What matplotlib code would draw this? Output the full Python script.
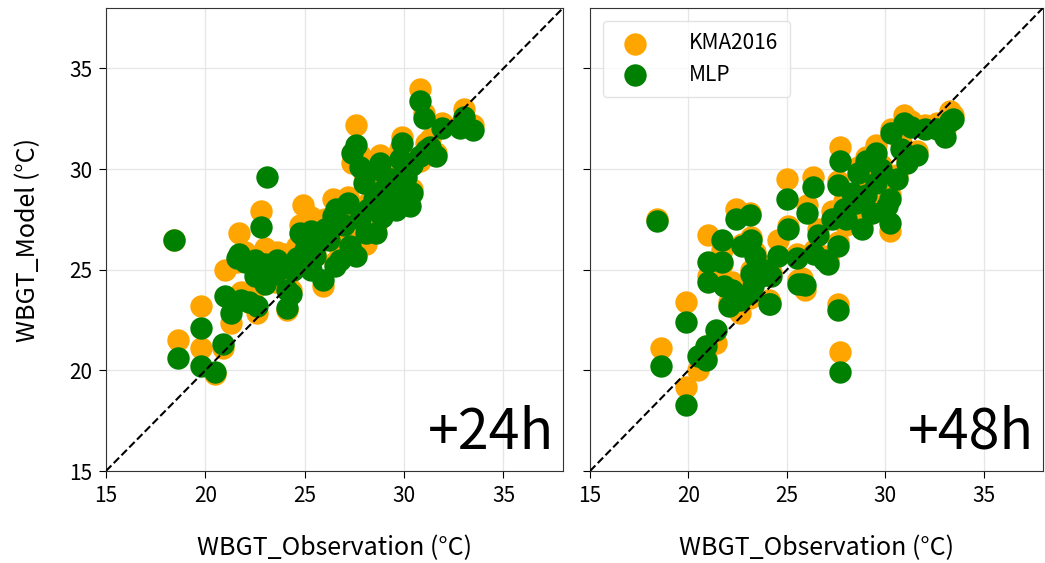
import matplotlib
matplotlib.use("Agg")
import matplotlib.pyplot as plt

plt.rcParams['font.family'] = ['Noto Sans CJK KR', 'DejaVu Sans']

# ---- +24h panel data (observation, KMA2016 model, MLP model) ----
obs24 = [18.4, 18.6, 19.8, 19.8, 20.5, 20.9, 21.0, 21.3, 21.7, 21.8,
         22.8, 23.1, 22.2, 22.6, 24.1, 21.6, 22.0, 22.5, 23.0, 23.6,
         24.0, 24.6, 22.5, 23.0, 23.5, 24.1, 24.4, 24.9, 25.9, 25.3,
         25.0, 25.75, 26.4, 24.75, 26.8, 27.6, 27.6, 27.4, 27.8, 28.8,
         28.8, 29.9, 30.8, 31.0, 31.9, 32.8, 33.0, 33.45, 31.6, 31.1,
         30.8, 30.3, 28.6, 28.1, 30.1, 30.4, 29.6, 27.76, 28.5, 29.0,
         29.4, 28.2, 27.0, 26.2, 25.5, 26.0, 27.2, 29.8, 30.4, 29.2,
         28.0, 26.6, 25.3, 24.3, 26.5, 27.3, 28.9, 30.0, 29.5, 31.3]
kma24 = [26.5, 21.5, 23.2, 21.1, 19.8, 21.1, 25.0, 22.35, 26.8, 23.9,
         27.9, 25.6, 23.4, 22.85, 23.0, 25.4, 25.9, 25.6, 26.1, 25.9,
         25.8, 26.2, 24.1, 24.6, 24.4, 24.6, 25.3, 28.2, 24.2, 25.8,
         26.4, 27.0, 28.5, 27.2, 26.0, 26.3, 32.2, 30.3, 30.7, 30.7,
         29.6, 31.6, 34.0, 32.8, 32.3, 32.2, 33.0, 32.2, 30.8, 31.3,
         30.4, 28.8, 27.2, 26.3, 29.4, 29.0, 28.3, 27.8, 28.8, 29.3,
         30.0, 28.3, 27.6, 26.8, 25.8, 27.5, 28.6, 31.0, 30.4, 28.6,
         29.8, 28.4, 27.6, 24.0, 25.4, 26.6, 28.0, 29.0, 29.7, 31.5]
mlp24 = [26.5, 20.6, 22.1, 20.2, 19.9, 21.3, 23.7, 22.85, 25.8, 23.5,
         27.1, 29.6, 23.4, 23.2, 23.1, 25.6, 25.4, 25.5, 25.3, 25.5,
         25.2, 25.6, 24.7, 24.3, 24.8, 24.0, 25.0, 26.65, 24.5, 25.0,
         26.0, 26.5, 27.65, 26.8, 25.5, 25.66, 31.2, 30.8, 30.1, 30.3,
         29.97, 31.3, 33.4, 32.55, 32.06, 32.06, 32.6, 31.96, 30.64, 30.97,
         30.64, 28.15, 26.84, 26.8, 29.6, 28.8, 27.98, 27.5, 28.5, 29.0,
         29.5, 28.0, 27.2, 26.5, 25.7, 27.0, 28.3, 30.5, 30.2, 28.4,
         29.3, 28.0, 26.9, 23.8, 25.2, 26.2, 27.6, 28.6, 29.4, 31.1]

# ---- +48h panel data ----
obs48 = [18.4, 19.85, 18.6, 19.85, 20.5, 20.9, 21.4, 20.9, 22.05, 22.6,
         23.1, 24.1, 23.3, 23.7, 21.0, 21.8, 21.0, 21.7, 21.7, 22.4,
         23.1, 23.2, 22.7, 23.4, 24.55, 25.05, 25.0, 25.55, 23.2, 23.9,
         27.7, 29.5, 26.3, 26.0, 27.6, 28.6, 26.9, 27.6, 25.75, 30.26,
         30.26, 33.3, 33.05, 32.0, 30.95, 31.1, 31.6, 30.3, 30.6, 30.1,
         27.6, 27.7, 25.9, 24.15, 27.1, 28.0, 28.5, 29.0, 29.3, 28.3,
         29.8, 27.9, 28.8, 29.5, 26.6, 30.8, 31.3, 32.6, 33.45, 24.2,
         22.2, 25.5, 26.4, 27.3, 29.0]
kma48 = [27.5, 23.4, 21.1, 19.15, 20.0, 21.2, 21.35, 20.6, 23.4, 22.85,
         23.6, 23.5, 24.5, 24.9, 24.7, 24.3, 26.7, 25.3, 26.0, 28.0,
         27.8, 26.6, 26.3, 25.9, 26.5, 27.15, 29.5, 24.5, 25.0, 25.2,
         31.1, 31.2, 29.6, 28.2, 29.4, 30.1, 25.7, 26.4, 24.6, 26.9,
         28.7, 32.9, 32.0, 32.2, 32.7, 30.5, 30.9, 32.0, 29.7, 28.4,
         23.3, 20.9, 24.0, 23.4, 25.5, 27.2, 28.5, 29.0, 28.0, 27.8,
         30.2, 28.4, 27.2, 29.5, 27.0, 31.3, 32.4, 32.3, 32.7, 24.9,
         24.4, 25.8, 26.0, 27.9, 30.6]
mlp48 = [27.4, 22.4, 20.2, 18.3, 20.7, 21.2, 22.0, 20.5, 23.2, 23.5,
         23.85, 23.3, 24.2, 24.7, 24.4, 24.2, 25.4, 25.4, 26.5, 27.5,
         27.7, 26.5, 26.2, 25.7, 25.7, 27.0, 28.5, 24.3, 24.8, 25.0,
         30.4, 30.8, 29.1, 27.8, 29.2, 29.8, 25.5, 26.2, 24.3, 27.3,
         28.5, 32.4, 31.6, 32.0, 32.3, 30.3, 30.7, 31.8, 29.5, 28.15,
         23.0, 19.9, 24.25, 23.3, 25.3, 27.5, 28.3, 28.7, 27.8, 28.8,
         30.0, 28.0, 27.0, 29.3, 26.7, 31.0, 32.1, 32.0, 32.5, 24.7,
         24.0, 25.6, 25.8, 27.5, 30.4]

panels = [("+24h", obs24, kma24, mlp24), ("+48h", obs48, kma48, mlp48)]
ticks = [15, 20, 25, 30, 35]
lim = (15, 38)

fig = plt.figure(figsize=(10.45, 5.63), dpi=100)
ax1 = fig.add_axes([0.1014, 0.1634, 0.4374, 0.8224])
ax2 = fig.add_axes([0.5646, 0.1634, 0.4334, 0.8224], sharey=ax1)

for ax, (label, obs, kma, mlp) in zip([ax1, ax2], panels):
    ax.grid(True, color='#e6e6e6', linewidth=0.9, zorder=0)
    ax.set_axisbelow(True)
    ax.scatter(obs, kma, s=260, color='orange', label='KMA2016', zorder=2, linewidths=0)
    ax.scatter(obs, mlp, s=260, color='green', label='MLP', zorder=3, linewidths=0)
    ax.plot(lim, lim, linestyle='--', color='black', linewidth=1.5, zorder=4)
    ax.set_xlim(lim)
    ax.set_ylim(lim)
    ax.set_xticks(ticks)
    ax.set_yticks(ticks)
    ax.tick_params(labelsize=15, length=5, pad=5)
    ax.set_xlabel('WBGT_Observation (°C)', fontsize=18, labelpad=20)
    ax.text(0.98, 0.02, label, transform=ax.transAxes, ha='right', va='bottom',
            fontsize=40, zorder=5)
    for sp in ax.spines.values():
        sp.set_color('#333333')

ax1.set_ylabel('WBGT_Model (°C)', fontsize=18, labelpad=20)
plt.setp(ax2.get_yticklabels(), visible=False)

leg = ax2.legend(loc='upper left', fontsize=15, frameon=True, borderpad=0.55,
                 handletextpad=1.6, labelspacing=0.45, bbox_to_anchor=(0.005, 0.995))
leg.get_frame().set_edgecolor('#dddddd')

fig.savefig('out.png', dpi=100)
